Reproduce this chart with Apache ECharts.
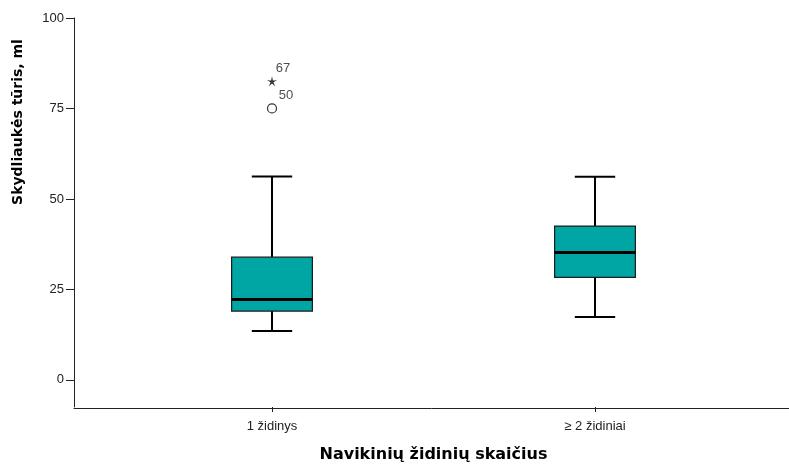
<!DOCTYPE html>
<html>
<head>
<meta charset="utf-8">
<script src="https://cdn.jsdelivr.net/npm/echarts@6/dist/echarts.min.js"></script>
<style>html,body{margin:0;padding:0;background:#fff}#c{width:789px;height:468px}</style>
</head>
<body>
<div id="c"></div>
<script>
const categories = ['1 židinys', '≥ 2 židiniai'];
const whiskerLow = [13.5, 17.4];
const q1 = [19.0, 28.3];
const median = [22.2, 35.2];
const q3 = [33.9, 42.5];
const whiskerHigh = [56.2, 56.1];
const circleOutliers = [[0, 75, '50']];
const starOutliers = [[0, 82.5, '67']];
const yTicks = [0, 25, 50, 75, 100];
const xTitle = 'Navikinių židinių skaičius';
const yTitle = 'Skydliaukės tūris, ml';

const boxData = categories.map((c, i) => [i, whiskerLow[i], q1[i], median[i], q3[i], whiskerHigh[i]]);

const starPath = 'path://M0,-10 L1.76,-2.43 L9.51,-3.09 L2.85,0.93 L5.88,8.09 L0,3 L-5.88,8.09 L-2.85,0.93 L-9.51,-3.09 L-1.76,-2.43 Z';
const tickFont = 'Liberation Sans, Arial, sans-serif';
const titleFont = 'DejaVu Sans, Verdana, sans-serif';

const chart = echarts.init(document.getElementById('c'), null, {renderer: 'canvas'});
chart.setOption({
  animation: false,
  backgroundColor: '#fff',
  grid: [
    {left: 110.5, right: 32.5, top: 18, bottom: 60},
    {left: 74, right: 0, top: 18, bottom: 60}
  ],
  xAxis: [
    {
      gridIndex: 0, type: 'category', data: categories, boundaryGap: true, position: 'bottom',
      axisLine: {show: false, onZero: false},
      axisTick: {show: true, alignWithLabel: true, length: 5, lineStyle: {color: '#222', width: 1}},
      axisLabel: {color: '#222', fontSize: 13, fontFamily: tickFont, margin: 13},
      splitLine: {show: false},
      name: xTitle, nameLocation: 'middle', nameGap: 40,
      nameTextStyle: {fontSize: 16, fontWeight: 'bold', fontFamily: titleFont, color: '#000'}
    },
    {
      gridIndex: 1, type: 'value', min: 0, max: 1, position: 'bottom',
      axisLine: {show: true, onZero: false, lineStyle: {color: '#222', width: 1}},
      axisTick: {show: false}, axisLabel: {show: false}, splitLine: {show: false}
    }
  ],
  yAxis: [
    {
      gridIndex: 0, type: 'value', min: -7.5, max: 100, offset: 36.5,
      axisLine: {show: true, onZero: false, lineStyle: {color: '#222', width: 1}},
      axisTick: {show: true, length: 8, customValues: yTicks, lineStyle: {color: '#222'}},
      axisLabel: {show: true, customValues: yTicks, color: '#222', fontSize: 13, fontFamily: tickFont, margin: 10},
      splitLine: {show: false}
    },
    {
      gridIndex: 1, type: 'value', min: -7.5, max: 100, show: false
    }
  ],
  graphic: [{
    type: 'text', x: 18, y: 122, rotation: Math.PI / 2,
    style: {text: yTitle, font: 'bold 14px ' + titleFont, fill: '#000', align: 'center', verticalAlign: 'middle'}
  }],
  series: [
    {
      type: 'custom',
      xAxisIndex: 0, yAxisIndex: 0,
      data: boxData,
      encode: {x: 0, y: [1, 2, 3, 4, 5]},
      renderItem: function (params, api) {
        const x = api.value(0);
        const band = api.size([1, 0])[0];
        const boxW = band * 0.25;
        const capW = band * 0.125;
        const pLow = api.coord([x, api.value(1)]);
        const pQ1 = api.coord([x, api.value(2)]);
        const pMed = api.coord([x, api.value(3)]);
        const pQ3 = api.coord([x, api.value(4)]);
        const pHigh = api.coord([x, api.value(5)]);
        const cx = pMed[0];
        const lineStyle = {stroke: '#000', lineWidth: 2};
        return {
          type: 'group',
          children: [
            {type: 'line', shape: {x1: cx, y1: pHigh[1], x2: cx, y2: pQ3[1]}, style: lineStyle},
            {type: 'line', shape: {x1: cx, y1: pQ1[1], x2: cx, y2: pLow[1]}, style: lineStyle},
            {type: 'line', shape: {x1: cx - capW / 2, y1: pHigh[1], x2: cx + capW / 2, y2: pHigh[1]}, style: lineStyle},
            {type: 'line', shape: {x1: cx - capW / 2, y1: pLow[1], x2: cx + capW / 2, y2: pLow[1]}, style: lineStyle},
            {type: 'rect', shape: {x: cx - boxW / 2, y: pQ3[1], width: boxW, height: pQ1[1] - pQ3[1]},
              style: {fill: '#00a6a3', stroke: '#1a1a1a', lineWidth: 1.2}},
            {type: 'line', shape: {x1: cx - boxW / 2, y1: pMed[1], x2: cx + boxW / 2, y2: pMed[1]}, style: {stroke: '#000', lineWidth: 3}}
          ]
        };
      }
    },
    {
      type: 'scatter', xAxisIndex: 0, yAxisIndex: 0,
      data: circleOutliers,
      symbol: 'circle', symbolSize: 9,
      itemStyle: {color: '#fff', borderColor: '#000', borderWidth: 1.2},
      label: {show: true, formatter: p => p.value[2], position: 'inside', offset: [14, -13],
        color: '#222', fontSize: 13, fontFamily: tickFont}
    },
    {
      type: 'scatter', xAxisIndex: 0, yAxisIndex: 0,
      data: starOutliers,
      symbol: starPath, symbolSize: 10,
      itemStyle: {color: '#000'},
      label: {show: true, formatter: p => p.value[2], position: 'inside', offset: [11, -13],
        color: '#222', fontSize: 13, fontFamily: tickFont}
    }
  ]
});
</script>
</body>
</html>
